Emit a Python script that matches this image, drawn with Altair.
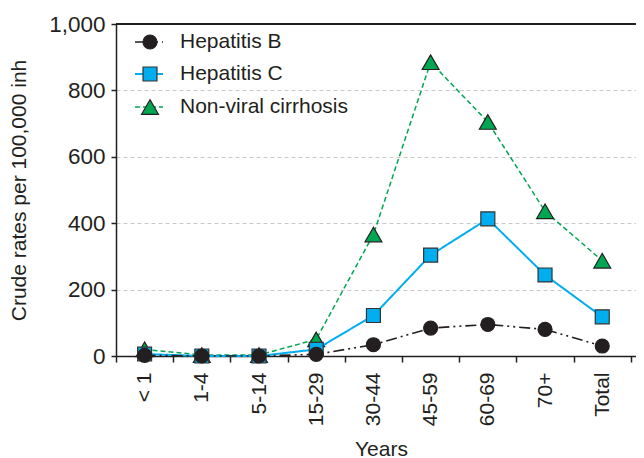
import altair as alt
import pandas as pd

ages = ["< 1", "1-4", "5-14", "15-29", "30-44", "45-59", "60-69", "70+", "Total"]
hep_b = [2, 0, 0, 5, 34, 84, 95, 80, 30]
hep_c = [6, 0, 0, 20, 122, 304, 413, 244, 118]
non_viral = [20, 3, 3, 50, 366, 885, 705, 436, 287]
series_names = ["Hepatitis B", "Hepatitis C", "Non-viral cirrhosis"]
y_ticks = [0, 200, 400, 600, 800, 1000]

FONT = "Liberation Sans"
INK = "#231f20"

rows = []
for name, vals in zip(series_names, [hep_b, hep_c, non_viral]):
    for a, v in zip(ages, vals):
        rows.append({"series": name, "age": a, "value": v})
df = pd.DataFrame(rows)

styles = {
    "Hepatitis B": dict(line=INK, fill=INK, stroke=INK, shape="circle", size=195,
                        dash=[11, 4, 2, 4, 2, 4], lw=1.6),
    "Hepatitis C": dict(line="#00aeef", fill="#00aeef", stroke="#333333", shape="square", size=195,
                        dash=[1, 0], lw=2),
    "Non-viral cirrhosis": dict(line="#00a651", fill="#00a651", stroke=INK, shape="triangle-up", size=285,
                                dash=[5, 3], lw=1.5),
}

x_enc = alt.X(
    "age:N", sort=ages, bandPosition=0.5,
    scale=alt.Scale(type="band", paddingInner=0, paddingOuter=0.045, align=0),
    axis=alt.Axis(title="Years", labelAngle=270, labelAlign="right", labelBaseline="middle",
                  tickBand="extent", tickSize=6, tickWidth=1.5, tickColor=INK,
                  domainColor=INK, domainWidth=1.5, labelPadding=10,
                  labelFont=FONT, labelFontSize=21, labelColor=INK,
                  titleFont=FONT, titleFontSize=21, titleFontWeight="normal", titleColor=INK,
                  titleY=93, titleBaseline="middle", titleX=265, titleAlign="center", grid=False),
)
y_enc = alt.Y(
    "value:Q",
    scale=alt.Scale(domain=[0, 1000], nice=False, zero=True),
    axis=alt.Axis(title="Crude rates per 100,000 inh", values=y_ticks, format=",d",
                  grid=True, gridDash=[4, 3], gridColor="#c8c8c8", gridWidth=1,
                  tickSize=5, tickWidth=1.5, tickColor=INK, domainColor=INK, domainWidth=1.5,
                  labelPadding=6, labelFont=FONT, labelFontSize=22.5, labelColor=INK,
                  titleFont=FONT, titleFontSize=21, titleFontWeight="normal", titleColor=INK,
                  titleX=-97, titleBaseline="middle", titleAlign="center"),
)

layers = []
top_rule = alt.Chart(pd.DataFrame({"v": [1000]})).mark_rule(color=INK, strokeWidth=2).encode(
    y=alt.Y("v:Q", scale=alt.Scale(domain=[0, 1000], nice=False))
)

draw_order = ["Non-viral cirrhosis", "Hepatitis C", "Hepatitis B"]
for name in draw_order:
    s = styles[name]
    sub = df[df["series"] == name]
    line = alt.Chart(sub).mark_line(color=s["line"], strokeWidth=s["lw"], strokeDash=s["dash"]).encode(
        x=x_enc, y=y_enc)
    pts = alt.Chart(sub).mark_point(shape=s["shape"], size=s["size"], filled=True, fill=s["fill"],
                                    stroke=s["stroke"], strokeWidth=1.2, opacity=1).encode(
        x=x_enc, y=y_enc)
    layers += [line, pts]

# legend (inside plot, top-left)
leg_y = {"Hepatitis B": 18, "Hepatitis C": 50, "Non-viral cirrhosis": 83}
for name in series_names:
    s = styles[name]
    ld = pd.DataFrame({"series": [name]})
    layers.append(alt.Chart(ld).mark_rule(color=s["line"], strokeWidth=s["lw"], strokeDash=s["dash"]).encode(
        x=alt.value(19), x2=alt.value(47), y=alt.value(leg_y[name])))
    layers.append(alt.Chart(ld).mark_point(shape=s["shape"], size=s["size"], filled=True, fill=s["fill"],
                                           stroke=s["stroke"], strokeWidth=1.2, opacity=1).encode(
        x=alt.value(34), y=alt.value(leg_y[name])))
    layers.append(alt.Chart(ld).mark_text(align="left", baseline="middle", font=FONT, fontSize=21,
                                          color=INK).encode(
        x=alt.value(64), y=alt.value(leg_y[name]), text="series:N"))

chart = alt.layer(*layers, top_rule).resolve_scale(y="shared").properties(
    width=520, height=332,
    autosize=alt.AutoSizeParams(type="none"),
    padding={"left": 108, "top": 16, "right": 0, "bottom": 104},
).configure_view(stroke=None).configure(background="white")

chart.save("out.html", embed_options={"renderer": "svg", "actions": False})
